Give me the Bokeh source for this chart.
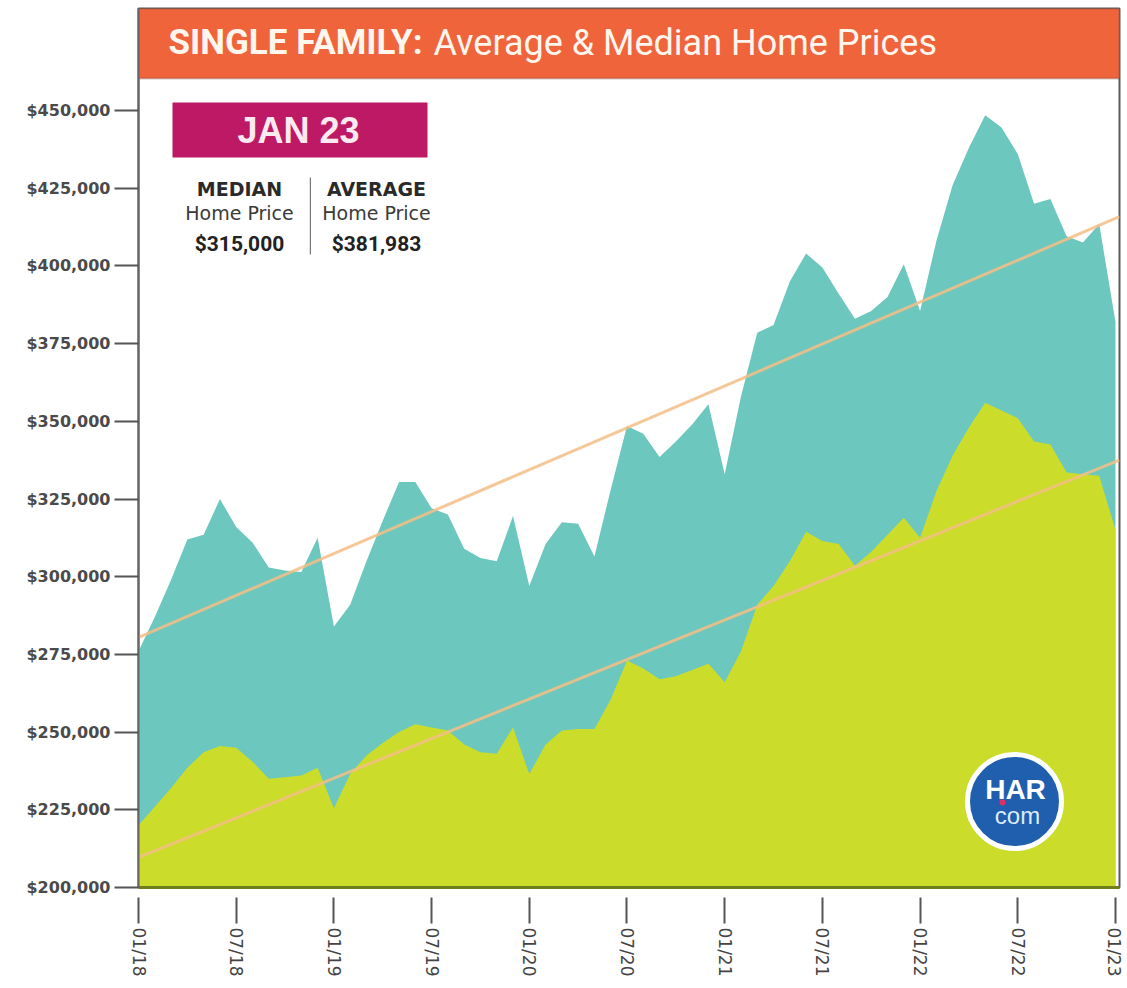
from bokeh.plotting import figure
from bokeh.models import (Range1d, FixedTicker, NumeralTickFormatter, BoxAnnotation, Label)
from bokeh.embed import file_html
from bokeh.resources import INLINE

# ---------------- data ----------------
TICK_LABELS = ["01/18", "07/18", "01/19", "07/19", "01/20", "07/20",
               "01/21", "07/21", "01/22", "07/22", "01/23"]
Y_TICKS = [200000, 225000, 250000, 275000, 300000, 325000,
           350000, 375000, 400000, 425000, 450000]

# monthly average single-family price, Jan 2018 .. Jan 2023
AVERAGE = [276000, 287000, 299000, 312000, 313500, 325000, 316000, 311000, 303000, 302000,
           301500, 312500, 284000, 291000, 305000, 318000, 330500, 330500, 322000, 320000,
           309000, 306000, 305000, 319500, 297000, 310500, 317500, 317000, 306500, 328000,
           348500, 346000, 338500, 343500, 349000, 355500, 333000, 358000, 378500, 381000,
           395000, 404000, 399500, 391000, 383000, 385500, 390000, 400500, 385500, 408000,
           426000, 438000, 448500, 444500, 436000, 420000, 421500, 409500, 407500, 413500,
           381983]
# monthly median single-family price
MEDIAN = [220000, 226000, 232000, 238500, 243500, 245500, 245000, 240500, 235000, 235500,
          236000, 238500, 225500, 236500, 242500, 246500, 250000, 252500, 251500, 250500,
          246000, 243500, 243000, 251500, 236500, 246000, 250500, 251000, 251000, 260500,
          273000, 270500, 267000, 268000, 270000, 272000, 266000, 276000, 291000, 297000,
          305000, 314500, 311500, 310500, 303500, 308000, 313500, 319000, 312500, 327500,
          339000, 348000, 356000, 353500, 351000, 343500, 342500, 333500, 333000, 332500,
          315000]
# trend lines (value at month 0 and month 60)
TREND_MONTHS = [0, 60]
AVERAGE_TREND = [280500, 415300]
MEDIAN_TREND = [209700, 337000]

LATEST_MONTH = "JAN 23"
LATEST_MEDIAN = "$315,000"
LATEST_AVERAGE = "$381,983"

MONTH_IDX = list(range(len(AVERAGE)))

# ---------------- layout helpers (page pixel -> data position) ----------------
PX_PER_MONTH = 16.283
PX_PER_DOLLAR = 3.108 / 1000.0
def X(px):
    return (px - 138) / PX_PER_MONTH
def Y(py):
    return 200000 + (887 - py) / PX_PER_DOLLAR

TEAL = "#6CC7BE"
LIME = "#CBDD2A"
ORANGE = "#F0643C"
MAGENTA = "#BE1964"
TREND = "#F4BE86"

p = figure(width=1123, height=982, output_backend="svg", toolbar_location=None,
           x_range=Range1d(0, X(1119)), y_range=Range1d(200000, Y(8)),
           min_border_left=138, min_border_right=4, min_border_top=8, min_border_bottom=95,
           background_fill_color="white", border_fill_color="white")
p.outline_line_color = "#5a5a5a"
p.outline_line_width = 2
p.xgrid.visible = False
p.ygrid.visible = False

# areas
p.varea(x=MONTH_IDX, y1=200000, y2=AVERAGE, fill_color=TEAL)
p.varea(x=MONTH_IDX, y1=200000, y2=MEDIAN, fill_color=LIME)

# trend lines, extended across the full frame
def extend(trend):
    slope = (trend[1] - trend[0]) / (TREND_MONTHS[1] - TREND_MONTHS[0])
    xe = [0, X(1119)]
    return xe, [trend[0] + slope * (v - TREND_MONTHS[0]) for v in xe]

for tr in (AVERAGE_TREND, MEDIAN_TREND):
    xe, ye = extend(tr)
    p.line(x=xe, y=ye, line_color=TREND, line_width=3, line_alpha=0.85)

# axes
yax = p.yaxis[0]
yax.ticker = FixedTicker(ticks=Y_TICKS)
yax.formatter = NumeralTickFormatter(format="$0,0")
yax.major_label_text_font = "DejaVu Sans"
yax.major_label_text_font_style = "bold"
yax.major_label_text_font_size = "16px"
yax.major_label_text_color = "#4a4a4a"
yax.major_tick_out = 24
yax.major_tick_in = 0
yax.major_tick_line_color = "#555555"
yax.major_tick_line_width = 2
yax.minor_tick_line_color = None
yax.axis_line_color = "#666666"
yax.axis_line_width = 2
yax.major_label_standoff = 4

xax = p.xaxis[0]
xax.ticker = FixedTicker(ticks=MONTH_IDX[::6])
xax.major_label_overrides = {i * 6: lab for i, lab in enumerate(TICK_LABELS)}
xax.major_label_orientation = "vertical"
xax.major_label_text_font = "DejaVu Sans"
xax.major_label_text_font_size = "17px"
xax.major_label_text_color = "#444444"
xax.major_tick_out = 36
xax.major_tick_in = -10
xax.major_tick_line_color = "#555555"
xax.major_tick_line_width = 2
xax.minor_tick_line_color = None
xax.axis_line_color = "#6f7d1c"
xax.axis_line_width = 3
xax.major_label_standoff = 4

# title banner
p.add_layout(BoxAnnotation(bottom=Y(78), fill_color=ORANGE, fill_alpha=1.0,
                           line_color="#6a4030", line_width=2, level="underlay"))
p.add_layout(Label(x=X(168), y=Y(42), text="SINGLE FAMILY:", text_font="Roboto",
                   text_font_style="bold", text_font_size="35px", text_color="#FFF6EE",
                   text_baseline="middle"))
p.add_layout(Label(x=X(433), y=Y(42), text="Average & Median Home Prices",
                   text_font="Roboto", text_font_size="36px",
                   text_color="#FFF6EE", text_baseline="middle"))

# info box
p.add_layout(BoxAnnotation(left=X(172), right=X(427), top=Y(102), bottom=Y(157),
                           fill_color=MAGENTA, fill_alpha=1.0, line_color=None))
p.add_layout(Label(x=X(298), y=Y(130), text=LATEST_MONTH, text_font="Liberation Sans",
                   text_font_style="bold", text_font_size="36px", text_color="#FCEAF1",
                   text_align="center", text_baseline="middle"))
for cx, head, val in ((239, "MEDIAN", LATEST_MEDIAN), (376, "AVERAGE", LATEST_AVERAGE)):
    p.add_layout(Label(x=X(cx), y=Y(188), text=head, text_font="DejaVu Sans",
                       text_font_style="bold", text_font_size="19px", text_color="#2a2a2a",
                       text_align="center", text_baseline="middle"))
    p.add_layout(Label(x=X(cx), y=Y(212), text="Home Price", text_font="DejaVu Sans",
                       text_font_size="19px", text_color="#3a3a3a",
                       text_align="center", text_baseline="middle"))
    p.add_layout(Label(x=X(cx), y=Y(243), text=val, text_font="Roboto",
                       text_font_style="bold", text_font_size="21px", text_color="#222222",
                       text_align="center", text_baseline="middle"))
p.add_layout(BoxAnnotation(left=X(309.3), right=X(310.5), top=Y(177), bottom=Y(254),
                           fill_color="#777777", fill_alpha=1.0, line_color=None))

# logo
p.scatter(x=[X(1014)], y=[Y(801)], size=94, fill_color="#1F5FAE",
          line_color="white", line_width=5)
p.add_layout(Label(x=X(1015), y=Y(789), text="HAR", text_font="Liberation Sans",
                   text_font_style="bold", text_font_size="28px", text_color="white",
                   text_align="center", text_baseline="middle"))
p.add_layout(Label(x=X(1017), y=Y(815), text="com", text_font="Liberation Sans",
                   text_font_size="24px", text_color="#DDEBFA",
                   text_align="center", text_baseline="middle"))
p.scatter(x=[X(1002)], y=[Y(802)], size=6, fill_color="#E0306A", line_color=None)

open("out.html", "w").write(file_html(p, INLINE))
